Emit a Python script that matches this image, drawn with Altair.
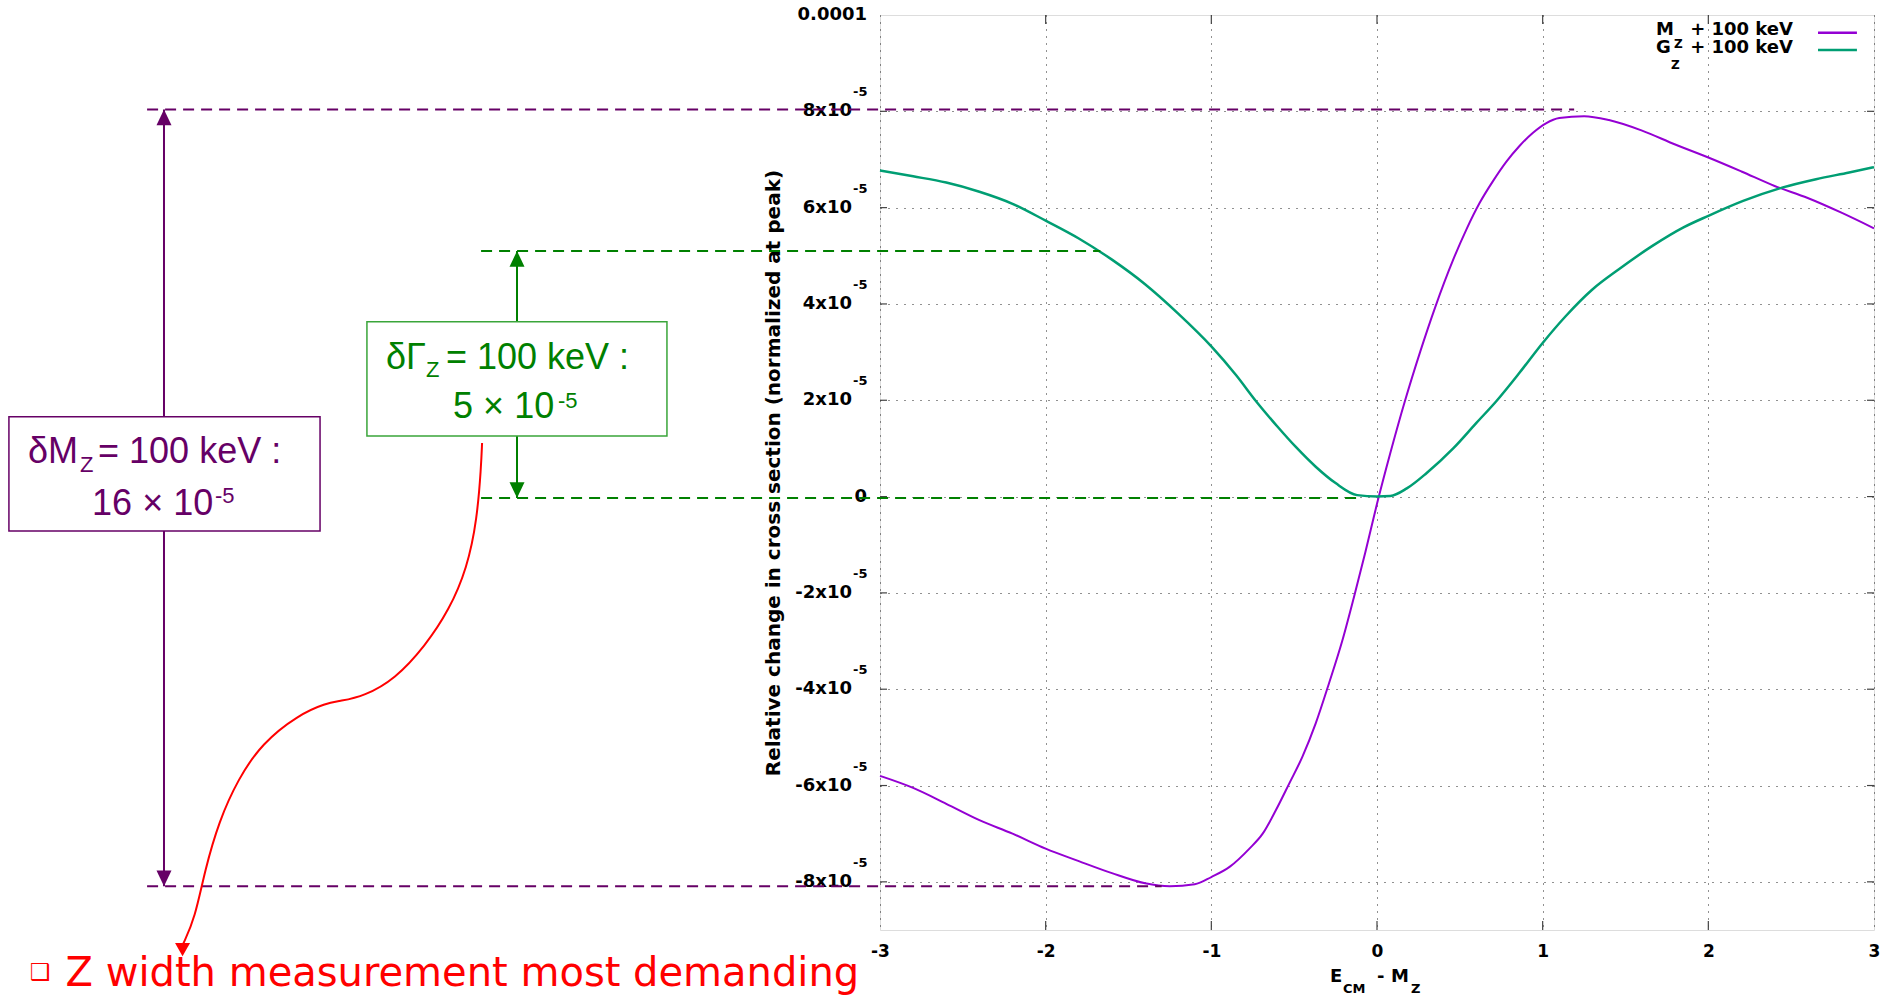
import altair as alt
import pandas as pd

# ---------------- values ----------------
# relative change in cross section, in units of 1e-5, versus E_CM - M_Z
mz_x = [-3.0, -2.8, -2.6, -2.4, -2.2, -2.0, -1.8, -1.6, -1.4, -1.25, -1.1, -1.0, -0.89, -0.77, -0.69,
        -0.61, -0.53, -0.45, -0.37, -0.29, -0.21, -0.14, -0.07, 0.0, 0.08, 0.17, 0.26, 0.35, 0.46, 0.54,
        0.62, 0.70, 0.78, 0.86, 0.94, 1.02, 1.1, 1.25, 1.4, 1.6, 1.8, 2.0, 2.2, 2.4, 2.6, 2.8, 3.0]
mz_y = [-5.80, -6.05, -6.38, -6.72, -7.00, -7.31, -7.57, -7.82, -8.03, -8.09, -8.05, -7.90, -7.69, -7.31, -7.00,
        -6.51, -5.96, -5.40, -4.71, -3.88, -3.00, -2.10, -1.15, -0.15, 0.90, 2.0, 3.0, 3.92, 4.92, 5.55,
        6.10, 6.55, 6.95, 7.28, 7.55, 7.75, 7.86, 7.90, 7.82, 7.60, 7.31, 7.04, 6.75, 6.45, 6.20, 5.90, 5.57]
gz_x = [-3.0, -2.8, -2.6, -2.4, -2.2, -2.0, -1.8, -1.6, -1.4, -1.2, -1.0, -0.85, -0.73, -0.6, -0.49,
        -0.37, -0.25, -0.12, 0.0, 0.08, 0.18, 0.30, 0.46, 0.60, 0.72, 0.86, 1.0, 1.14, 1.30, 1.46,
        1.66, 1.85, 2.0, 2.21, 2.45, 2.65, 2.85, 3.0]
gz_y = [6.77, 6.65, 6.52, 6.33, 6.08, 5.73, 5.36, 4.92, 4.41, 3.80, 3.12, 2.52, 1.98, 1.45, 1.03,
        0.62, 0.28, 0.03, 0.0, 0.01, 0.17, 0.49, 1.00, 1.53, 1.98, 2.57, 3.19, 3.75, 4.30, 4.72,
        5.20, 5.59, 5.83, 6.14, 6.42, 6.59, 6.73, 6.84]

series_names = ["MZ", "GZ"]
series_colors = ["#9400d3", "#009e73"]
series_widths = [2.0, 2.5]

x_ticks = [-3, -2, -1, 0, 1, 2, 3]
y_ticks = [-8, -6, -4, -2, 0, 2, 4, 6, 8]
y_label_vals = [10, 8, 6, 4, 2, 0, -2, -4, -6, -8]
y_label_main = ["0.0001", "8x10", "6x10", "4x10", "2x10", "0", "-2x10", "-4x10", "-6x10", "-8x10"]
y_label_sup = ["", "-5", "-5", "-5", "-5", "", "-5", "-5", "-5", "-5"]

# annotation levels / extents (data units)
dash_x1 = [-7.424, -7.424, -5.408, -5.408]
dash_x2 = [1.19, -1.30, -1.67, -0.10]
dash_y = [8.04, -8.09, 5.10, -0.03]
dash_col = ["#660066", "#660066", "#008000", "#008000"]

arrow_x = [-7.322, -5.191]
arrow_top = [8.04, 5.10]
arrow_bot = [-8.09, -0.03]
arrow_col = ["#660066", "#008000"]

box_x1 = [-8.258, -6.097]
box_x2 = [-6.380, -4.286]
box_y1 = [1.657, 3.630]
box_y2 = [-0.717, 1.256]
box_col = ["#660066", "#3aa53a"]

box_txt = ["δM", "Z", "= 100 keV :", "16 × 10", "-5",
           "δΓ", "Z", "= 100 keV :", "5 × 10", "-5"]
box_tx = [-8.143, -7.829, -7.720, -7.756, -7.014,
          -5.982, -5.740, -5.620, -5.577, -4.944]
box_ty = [0.689, 0.515, 0.689, -0.384, -0.141,
          2.648, 2.488, 2.648, 1.624, 1.832]
box_tsize = [36, 22, 36, 36, 22, 36, 22, 36, 36, 22]
box_tcol = ["#660066"] * 5 + ["#008000"] * 5

red_x = [-5.402, -5.408, -5.432, -5.492, -5.601, -5.746, -5.927, -6.114, -6.259, -6.344, -6.513,
         -6.730, -6.875, -6.990, -7.075, -7.135, -7.207]
red_y = [1.111, 0.613, -0.467, -1.485, -2.357, -3.105, -3.790, -4.143, -4.247, -4.289, -4.538,
         -5.120, -5.867, -6.740, -7.757, -8.755, -9.294]
red_tip = (-7.210, -9.543)

legend_txt = ["M", "Z", "+ 100 keV", "G", "Z", "+ 100 keV"]
legend_tx = [1.684, 1.793, 2.511, 1.684, 1.775, 2.511]
legend_ty = [9.585, 9.309, 9.585, 9.217, 8.872, 9.217]
legend_tsize = [18, 12, 18, 18, 12, 18]
legend_talign = ["left", "left", "right", "left", "left", "right"]
legend_line_x1 = [2.662, 2.662]
legend_line_x2 = [2.897, 2.897]
legend_line_y = [9.632, 9.273]

xtitle_txt = ["E", "CM", "-", "M", "Z"]
xtitle_tx = [-0.284, -0.205, 0.0, 0.084, 0.205]
xtitle_ty = [-10.083, -10.311, -10.083, -10.083, -10.311]
xtitle_tsize = [18, 13, 18, 18, 13]

ytitle = "Relative change in cross section (normalized at peak)"
ytitle_pos = (-3.604, 0.488)

bottom_txt = ["❑", "Z width measurement most demanding"]
bottom_tx = [-8.131, -7.916]
bottom_ty = [-10.03, -10.166]
bottom_tsize = [23, 40]

# ---------------- build tables ----------------
curves = pd.concat([
    pd.DataFrame({"x": mz_x, "y": mz_y, "s": series_names[0], "w": series_widths[0]}),
    pd.DataFrame({"x": gz_x, "y": gz_y, "s": series_names[1], "w": series_widths[1]}),
])

sx = alt.Scale(domain=[-3, 3], nice=False, zero=False)
sy = alt.Scale(domain=[-9, 10], nice=False, zero=False)
FONT_G = "DejaVu Sans"

AXX = alt.Axis(values=x_ticks, grid=True, gridColor="#222", gridDash=[1, 6], gridWidth=1,
               labelFont=FONT_G, labelFontSize=17, labelFontWeight="bold", labelColor="black",
               labelPadding=13, labelExpr="datum.value + ''", ticks=False, domain=False,
               title=None, labelFlush=False)
AXY = alt.Axis(values=y_ticks, grid=True, gridColor="#222", gridDash=[1, 7], gridWidth=1,
               labels=False, ticks=False, domain=False, title=None)


def X(f="x"):
    return alt.X(f"{f}:Q", scale=sx, axis=AXX)


def Y(f="y"):
    return alt.Y(f"{f}:Q", scale=sy, axis=AXY)


curve_layer = alt.Chart(curves).mark_line(clip=False, interpolate="monotone").encode(
    x=X(), y=Y(),
    color=alt.Color("s:N", scale=alt.Scale(domain=series_names, range=series_colors), legend=None),
    strokeWidth=alt.StrokeWidth("w:Q", scale=None),
)

# inward tick marks on all four borders
tx_df = pd.DataFrame({"v": x_ticks[1:-1]})
ty_df = pd.DataFrame({"v": y_ticks})
tick_col = "#444"
ticks = [
    alt.Chart(tx_df).mark_rule(color=tick_col, strokeWidth=1.2).encode(x=X("v"), y=alt.value(915), y2=alt.value(906)),
    alt.Chart(tx_df).mark_rule(color=tick_col, strokeWidth=1.2).encode(x=X("v"), y=alt.value(0), y2=alt.value(9)),
    alt.Chart(ty_df).mark_rule(color=tick_col, strokeWidth=1.2).encode(y=Y("v"), x=alt.value(0), x2=alt.value(7)),
    alt.Chart(ty_df).mark_rule(color=tick_col, strokeWidth=1.2).encode(y=Y("v"), x=alt.value(994), x2=alt.value(987)),
]

# y tick labels with superscript exponent
ylab = pd.DataFrame({"v": y_label_vals, "main": y_label_main, "sup": y_label_sup})
ylab_pow = alt.Chart(ylab).transform_filter("datum.sup != ''").mark_text(
    align="right", baseline="middle", dx=-28, font=FONT_G, fontSize=18, fontWeight="bold", color="black", clip=False
).encode(x=alt.value(0), y=Y("v"), text="main:N")
ylab_sup = alt.Chart(ylab).transform_filter("datum.sup != ''").mark_text(
    align="left", baseline="alphabetic", dx=-27, dy=-15, font=FONT_G, fontSize=13, fontWeight="bold", color="black", clip=False
).encode(x=alt.value(0), y=Y("v"), text="sup:N")
ylab_plain = alt.Chart(ylab).transform_filter("datum.sup == ''").mark_text(
    align="right", baseline="middle", dx=-13, font=FONT_G, fontSize=18, fontWeight="bold", color="black", clip=False
).encode(x=alt.value(0), y=Y("v"), text="main:N")

# legend
leg_txt_df = pd.DataFrame({"x": legend_tx, "y": legend_ty, "t": legend_txt, "size": legend_tsize, "al": legend_talign})
leg_left = alt.Chart(leg_txt_df).transform_filter("datum.al == 'left'").mark_text(
    align="left", baseline="alphabetic", font=FONT_G, fontWeight="bold", color="black", clip=False
).encode(x=X(), y=Y(), text="t:N", size=alt.Size("size:Q", scale=None))
leg_right = alt.Chart(leg_txt_df).transform_filter("datum.al == 'right'").mark_text(
    align="right", baseline="alphabetic", font=FONT_G, fontWeight="bold", color="black", clip=False
).encode(x=X(), y=Y(), text="t:N", size=alt.Size("size:Q", scale=None))
leg_lines = alt.Chart(pd.DataFrame({"x": legend_line_x1, "x2": legend_line_x2, "y": legend_line_y,
                                    "c": series_colors})).mark_rule(strokeWidth=2.5, clip=False).encode(
    x=X(), x2="x2:Q", y=Y(), color=alt.Color("c:N", scale=None))

# axis titles
xt_df = pd.DataFrame({"x": xtitle_tx, "y": xtitle_ty, "t": xtitle_txt, "size": xtitle_tsize})
xtitle = alt.Chart(xt_df).mark_text(
    align="left", baseline="alphabetic", font=FONT_G, fontWeight="bold", color="black", clip=False
).encode(x=X(), y=Y(), text="t:N", size=alt.Size("size:Q", scale=None))
yt_df = pd.DataFrame({"x": [ytitle_pos[0]], "y": [ytitle_pos[1]], "t": [ytitle]})
ytitle_layer = alt.Chart(yt_df).mark_text(
    align="center", baseline="alphabetic", angle=270, font=FONT_G, fontSize=20, fontWeight="bold",
    color="black", clip=False
).encode(x=X(), y=Y(), text="t:N")

# dashed reference levels
dash_df = pd.DataFrame({"x": dash_x1, "x2": dash_x2, "y": dash_y, "c": dash_col})
dashes = alt.Chart(dash_df).mark_rule(strokeDash=[11, 7], strokeWidth=2, clip=False).encode(
    x=X(), x2="x2:Q", y=Y(), color=alt.Color("c:N", scale=None))

# double arrows
arr_df = pd.DataFrame({"x": arrow_x, "y": arrow_top, "y2": arrow_bot, "c": arrow_col})
shafts = alt.Chart(arr_df).mark_rule(strokeWidth=2, clip=False).encode(
    x=X(), y=Y(), y2="y2:Q", color=alt.Color("c:N", scale=None))
UP = "M0,0L-0.5,1.05L0.5,1.05Z"
DOWN = "M0,0L-0.5,-1.05L0.5,-1.05Z"
heads_df = pd.DataFrame({
    "x": arrow_x + arrow_x + [red_tip[0]],
    "y": arrow_top + arrow_bot + [red_tip[1]],
    "c": arrow_col + arrow_col + ["#ff0000"],
    "shape": [UP, UP, DOWN, DOWN, "M0,0L-0.5,-0.87L0.5,-0.87Z"],
    "size": [900, 900, 900, 900, 900],
})
heads = alt.Chart(heads_df).mark_point(filled=True, opacity=1, strokeWidth=0, clip=False).encode(
    x=X(), y=Y(), shape=alt.Shape("shape:N", scale=None), size=alt.Size("size:Q", scale=None),
    fill=alt.Fill("c:N", scale=None))

# boxes and their text
box_df = pd.DataFrame({"x": box_x1, "x2": box_x2, "y": box_y1, "y2": box_y2, "c": box_col})
boxes = alt.Chart(box_df).mark_rect(fill="white", strokeWidth=1.5, clip=False).encode(
    x=X(), x2="x2:Q", y=Y(), y2="y2:Q", stroke=alt.Stroke("c:N", scale=None))
bt_df = pd.DataFrame({"x": box_tx, "y": box_ty, "t": box_txt, "size": box_tsize, "c": box_tcol})
box_text = alt.Chart(bt_df).mark_text(
    align="left", baseline="alphabetic", font="Liberation Sans", clip=False
).encode(x=X(), y=Y(), text="t:N", size=alt.Size("size:Q", scale=None), color=alt.Color("c:N", scale=None))

# red curved arrow and bottom statement
red_df = pd.DataFrame({"x": red_x, "y": red_y})
red_curve = alt.Chart(red_df).mark_line(color="#ff0000", strokeWidth=2, interpolate="basis", clip=False).encode(
    x=X(), y=Y())
bot_df = pd.DataFrame({"x": bottom_tx, "y": bottom_ty, "t": bottom_txt, "size": bottom_tsize})
bottom_text = alt.Chart(bot_df).mark_text(
    align="left", baseline="alphabetic", font=FONT_G, color="#ff0000", clip=False
).encode(x=X(), y=Y(), text="t:N", size=alt.Size("size:Q", scale=None))

chart = alt.layer(
    curve_layer, *ticks, ylab_pow, ylab_sup, ylab_plain, leg_lines, leg_left, leg_right,
    xtitle, ytitle_layer, dashes, shafts, boxes, heads, box_text, red_curve, bottom_text,
).properties(
    width=994, height=915,
    padding={"left": 880, "top": 15, "right": 20, "bottom": 66},
    autosize=alt.AutoSizeParams(type="none"),
).configure_view(stroke="#555", strokeWidth=1.5).configure(background="white")

chart.save("out.html", embed_options={"renderer": "svg", "actions": False})
